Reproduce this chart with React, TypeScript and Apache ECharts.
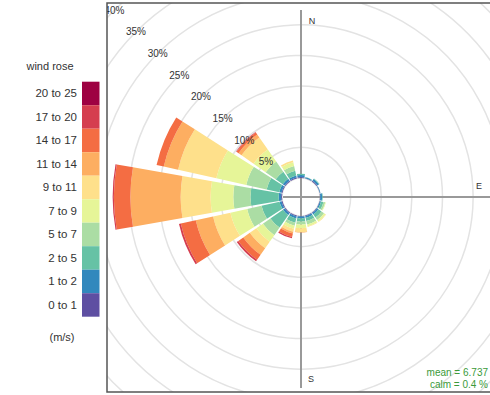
import React, { useEffect, useRef } from "react";
import * as echarts from "echarts";

const directions = ["N", "NNE", "NE", "ENE", "E", "ESE", "SE", "SSE", "S", "SSW", "SW", "WSW", "W", "WNW", "NW", "NNW"];
const speedBins = ["0 to 1", "1 to 2", "2 to 5", "5 to 7", "7 to 9", "9 to 11", "11 to 14", "14 to 17", "17 to 20", "20 to 25"];
const binColors = ["#5E4FA2", "#3288BD", "#66C2A5", "#ABDDA4", "#E6F598", "#FEE08B", "#FDAE61", "#F46D43", "#D53E4F", "#9E0142"];

// frequency (%) per direction for each speed bin
const freq0to1 = [0.15, 0.05, 0.15, 0.05, 0.05, 0.05, 0.1, 0.1, 0.1, 0.15, 0.15, 0.15, 0.15, 0.15, 0.15, 0.15];
const freq1to2 = [0.35, 0.15, 0.35, 0.1, 0.3, 0.2, 0.3, 0.3, 0.3, 0.35, 0.35, 0.35, 0.4, 0.4, 0.4, 0.35];
const freq2to5 = [0.2, 0.05, 0.1, 0, 0.1, 0.4, 0.6, 0.5, 0.5, 0.7, 2.5, 3.0, 4.6, 2.1, 1.4, 0.8];
const freq5to7 = [0, 0, 0, 0, 0, 0.3, 0.5, 0.6, 0.5, 0.5, 1.5, 2.4, 2.8, 3.4, 2.0, 0.8];
const freq7to9 = [0, 0, 0, 0, 0, 0.1, 0.3, 0.3, 0.6, 0.5, 1.3, 2.8, 3.7, 5.0, 2.4, 0.6];
const freq9to11 = [0, 0, 0, 0, 0, 0, 0.1, 0.1, 0.6, 0.5, 1.3, 2.9, 4.9, 6.4, 2.4, 0.3];
const freq11to14 = [0, 0, 0, 0, 0, 0, 0, 0, 0.1, 0.3, 1.3, 2.9, 8.2, 2.4, 0.6, 0];
const freq14to17 = [0, 0, 0, 0, 0, 0, 0, 0, 0, 0.6, 1.0, 2.5, 2.7, 1.2, 0.4, 0];
const freq17to20 = [0, 0, 0, 0, 0, 0, 0, 0, 0, 0.2, 0.3, 0.3, 0.2, 0, 0.1, 0];
const freq20to25 = [0, 0, 0, 0, 0, 0, 0, 0, 0, 0, 0, 0, 0, 0, 0, 0];

const radialTicks = ["", "5%", "10%", "15%", "20%", "25%", "30%", "35%", "40%"];
const meanText = "mean = 6.737";
const calmText = "calm = 0.4 %";

const allFreq = [freq0to1, freq1to2, freq2to5, freq5to7, freq7to9, freq9to11, freq11to14, freq14to17, freq17to20, freq20to25];

const FONT = "'Liberation Sans', Arial, sans-serif";

export default function App() {
  const ref = useRef<HTMLDivElement>(null);
  useEffect(() => {
    if (!ref.current) return;
    const chart = echarts.init(ref.current, null, { renderer: "svg" });
    const cx = 301, cy = 197;
    const legendTop = 81.7, boxH = 23.5;
    const legendItems: any[] = [];
    const n = speedBins.length;
    for (let i = 0; i < n; i++) {
      const idx = n - 1 - i;
      const y = legendTop + i * boxH;
      legendItems.push({
        type: "rect", z: 21,
        shape: { x: 82, y, width: 17.5, height: boxH },
        style: { fill: binColors[idx] },
      });
      legendItems.push({
        type: "text", z: 21, x: 77, y: y + boxH / 2,
        style: { text: speedBins[idx], fill: "#333", font: `11.5px ${FONT}`, textAlign: "right", textVerticalAlign: "middle" },
      });
    }
    const option: any = {
      animation: false,
      polar: [
        { center: [cx, cy], radius: [19, 264] },
        { center: [cx, cy], radius: [19, 264] },
      ],
      angleAxis: [
        {
          polarIndex: 0, type: "category", data: directions, startAngle: 90 + 11.25, clockwise: true,
          boundaryGap: true, axisLine: { show: false }, axisTick: { show: false }, axisLabel: { show: false },
          splitLine: { show: false },
        },
        {
          polarIndex: 1, type: "value", min: 0, max: 360, startAngle: 135, clockwise: true,
          axisLine: { show: false }, axisTick: { show: false }, axisLabel: { show: false }, splitLine: { show: false },
        },
      ],
      radiusAxis: [
        {
          polarIndex: 0, type: "value", min: 0, max: 40, interval: 5,
          axisLine: { show: false }, axisTick: { show: false }, axisLabel: { show: false },
          splitLine: { show: true, lineStyle: { color: "#e3e3e3", width: 1.5 } },
        },
        {
          polarIndex: 1, type: "value", min: 0, max: 40, interval: 5, z: 10,
          axisLine: { show: false }, axisTick: { show: false }, splitLine: { show: false },
          axisLabel: {
            show: true, margin: 0, align: "center", verticalAlign: "middle",
            fontSize: 10, color: "#333", fontFamily: FONT,
            formatter: (v: number) => radialTicks[Math.round(v / 5)] ?? "",
          },
        },
      ],
      series: speedBins.map((name, i) => ({
        name, type: "bar", coordinateSystem: "polar", polarIndex: 0, stack: "rose",
        data: allFreq[i], barCategoryGap: "11%", z: 2,
        itemStyle: { color: binColors[i] },
      })),
      graphic: [
        { type: "line", z: 1, shape: { x1: cx, y1: 10, x2: cx, y2: 388 }, style: { stroke: "#999", lineWidth: 2 } },
        { type: "line", z: 1, shape: { x1: 283, y1: cy, x2: 495, y2: cy }, style: { stroke: "#999", lineWidth: 2 } },
        { type: "text", z: 5, x: 312, y: 21, style: { text: "N", fill: "#333", font: `9px ${FONT}`, textAlign: "center", textVerticalAlign: "middle" } },
        { type: "text", z: 5, x: 311, y: 379, style: { text: "S", fill: "#333", font: `9px ${FONT}`, textAlign: "center", textVerticalAlign: "middle" } },
        { type: "text", z: 5, x: 479, y: 186, style: { text: "E", fill: "#333", font: `9px ${FONT}`, textAlign: "center", textVerticalAlign: "middle" } },
        { type: "text", z: 5, x: 488, y: 372, style: { text: meanText, fill: "#3a9a3a", font: `10px ${FONT}`, textAlign: "right", textVerticalAlign: "middle" } },
        { type: "text", z: 5, x: 488, y: 384, style: { text: calmText, fill: "#3a9a3a", font: `10px ${FONT}`, textAlign: "right", textVerticalAlign: "middle" } },
        // masks outside the plot frame
        { type: "rect", z: 20, shape: { x: 0, y: 0, width: 107, height: 395 }, style: { fill: "#fff" } },
        { type: "rect", z: 20, shape: { x: 0, y: 0, width: 490, height: 3 }, style: { fill: "#fff" } },
        { type: "rect", z: 20, shape: { x: 0, y: 392, width: 490, height: 3 }, style: { fill: "#fff" } },
        { type: "rect", z: 21, shape: { x: 107, y: 3, width: 392, height: 389 }, style: { fill: "none", stroke: "#555", lineWidth: 1.5 } },
        { type: "text", z: 21, x: 50, y: 66, style: { text: "wind rose", fill: "#333", font: `11px ${FONT}`, textAlign: "center", textVerticalAlign: "middle" } },
        { type: "text", z: 21, x: 62, y: 337, style: { text: "(m/s)", fill: "#333", font: `11px ${FONT}`, textAlign: "center", textVerticalAlign: "middle" } },
        ...legendItems,
      ],
    };
    chart.setOption(option);
    return () => chart.dispose();
  }, []);
  return <div ref={ref} style={{ position: "fixed", left: 0, top: 0, width: 490, height: 395, background: "#fff" }} />;
}
